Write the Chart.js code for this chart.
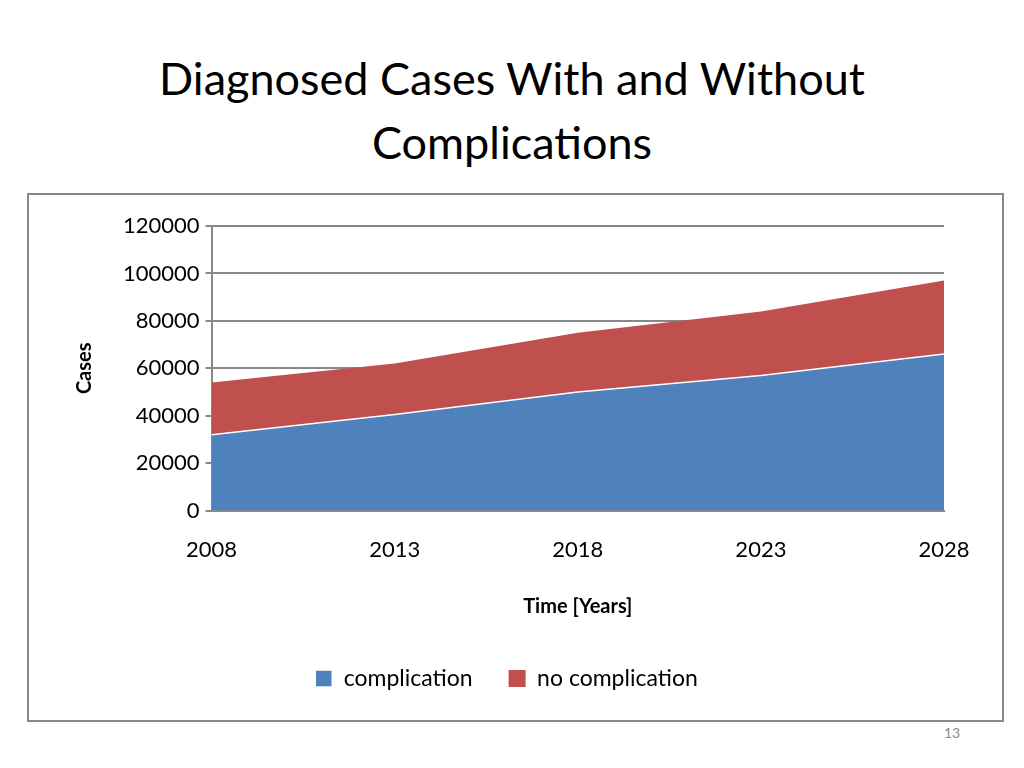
<!DOCTYPE html>
<html>
<head>
<script src="https://cdn.jsdelivr.net/npm/chart.js"></script>
<style>
body{margin:0;width:1024px;height:768px;background:#fff;font-family:Lato,"Open Sans",sans-serif;position:relative}
h1{position:absolute;top:46px;left:0;width:1024px;margin:0;text-align:center;font-weight:400;font-size:45px;line-height:64px;color:#000}
#box{position:absolute;left:27px;top:193px;width:973px;height:525px;border:2px solid #888}
#pg{position:absolute;left:944px;top:724px;font-size:14px;color:#8c8c8c}
</style>
</head>
<body>
<h1>Diagnosed Cases With and Without<br>Complications</h1>
<div id="box"><canvas id="chart" width="973" height="525"></canvas></div>
<div id="pg">13</div>
<script>
const years = ["2008","2013","2018","2023","2028"];
const complication = [32000, 40500, 50000, 57000, 66000];
const noComplication = [22000, 21500, 25000, 27000, 31000];

new Chart(document.getElementById("chart"), {
  type: "line",
  data: {
    labels: years,
    datasets: [
      {label: "complication", data: complication, backgroundColor: "#4F81BD", borderColor: "#ffffff", borderWidth: 1.5, fill: "origin", pointRadius: 0, tension: 0},
      {label: "no complication", data: noComplication, backgroundColor: "#C0504D", borderColor: "#C0504D", borderWidth: 0, fill: "-1", pointRadius: 0, tension: 0}
    ]
  },
  options: {
    responsive: false,
    animation: false,
    layout: {padding: {left: 40, right: 58, top: 31, bottom: 20}},
    plugins: {
      legend: {
        position: "bottom",
        labels: {boxWidth: 17, boxHeight: 17, padding: 36, color: "#000", font: {family: "Lato", size: 23}}
      },
      tooltip: {enabled: false}
    },
    scales: {
      x: {
        offset: false,
        grid: {display: false, drawTicks: true, tickLength: 6},
        border: {color: "#888", width: 2},
        ticks: {color: "#000", font: {family: "Lato", size: 22}, padding: 20, maxRotation: 0},
        title: {display: true, text: "Time [Years]", color: "#000", font: {family: "Lato", size: 20, weight: "bold"}, padding: {top: 12, bottom: 12}}
      },
      y: {
        stacked: true,
        min: 0, max: 120000,
        grid: {color: "#888", lineWidth: 2, tickLength: 6},
        border: {color: "#888", width: 2},
        ticks: {stepSize: 20000, color: "#000", font: {family: "Lato", size: 22}, padding: 6, callback: v => String(v)},
        title: {display: true, text: "Cases", color: "#000", font: {family: "Lato", size: 20, weight: "bold"}, padding: {bottom: 20}}
      }
    }
  }
});
</script>
</body>
</html>
